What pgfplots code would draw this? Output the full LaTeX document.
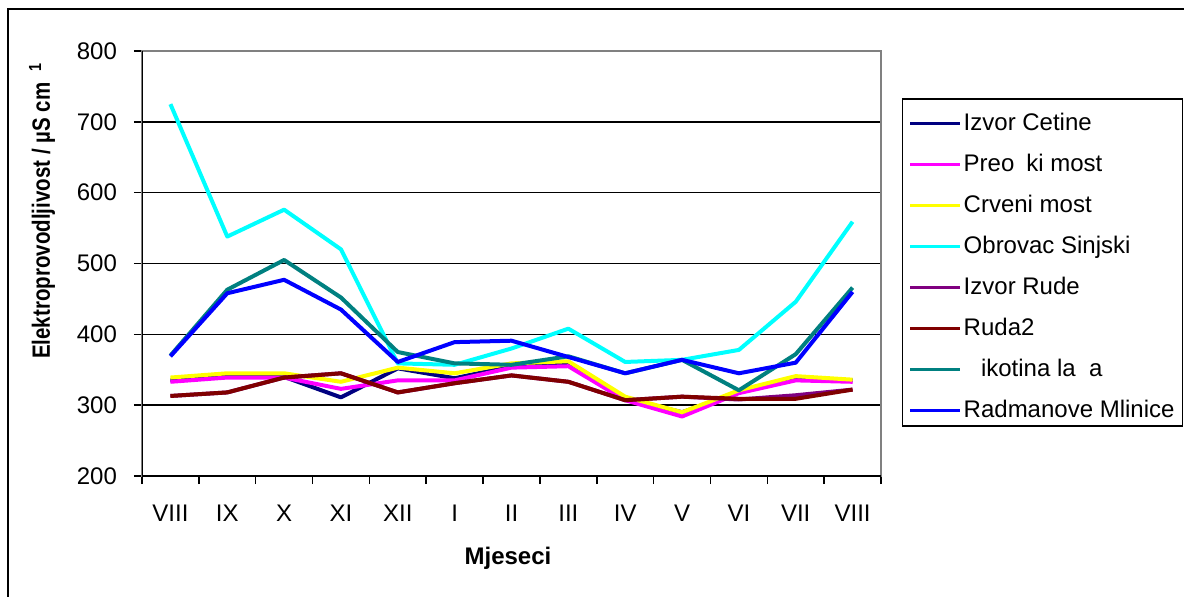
\documentclass[border=0pt]{standalone}
\usepackage{pgfplots}
\pgfplotsset{compat=1.18}
\usepackage{fontspec}
\setmainfont{Liberation Sans}
\definecolor{cNavy}{RGB}{0,0,128}
\definecolor{cMag}{RGB}{255,0,255}
\definecolor{cYel}{RGB}{255,255,0}
\definecolor{cCyan}{RGB}{0,255,255}
\definecolor{cPur}{RGB}{128,0,128}
\definecolor{cMar}{RGB}{128,0,0}
\definecolor{cTeal}{RGB}{0,128,128}
\definecolor{cBlue}{RGB}{0,0,255}
\definecolor{cGray}{RGB}{128,128,128}
\begin{document}
\begin{tikzpicture}
\useasboundingbox (0,0) rectangle (592pt,298pt);
\draw[black, line width=0.75pt] (4pt,-5pt) rectangle (600pt,293.5pt);
\begin{axis}[
  at={(71pt,60pt)}, anchor=south west,
  scale only axis, width=369.5pt, height=212.5pt,
  xmin=-0.5, xmax=12.5, ymin=200, ymax=800,
  ytick={200,300,...,800},
  xtick={-0.5,0.5,...,12.5},
  xticklabels={},
  extra x ticks={0,1,...,12},
  extra x tick labels={VIII,IX,X,XI,XII,I,II,III,IV,V,VI,VII,VIII},
  extra x tick style={major tick length=0pt, grid=none},
  xtick pos=bottom, ytick pos=left,
  tick align=outside,
  major tick length=4pt,
  tick style={black, line width=0.75pt},
  ymajorgrids,
  grid style={black, line width=0.75pt},
  axis line style={cGray, line width=0.75pt},
  /pgf/number format/assume math mode=true,
  tick label style={font=\fontsize{12}{14}\selectfont},
  yticklabel style={xshift=-5pt},
  xticklabel style={yshift=-11pt},
  legend style={at={(1.0284,0.8894)}, anchor=north west, draw=black, line width=0.75pt,
    font=\fontsize{12}{14}\selectfont, row sep=6.5pt, inner sep=3pt,
    nodes={text height=12pt, text depth=0pt, inner sep=1pt}},
  legend cell align=left,
  legend image code/.code={\draw[#1, line width=1.5pt] (0pt,-2.5pt) -- (25pt,-2.5pt);},
  every axis plot/.append style={line width=2pt, line join=round},
]
\addplot[cNavy] coordinates {(0,335) (1,340) (2,340) (3,311) (4,352) (5,338) (6,355) (7,358) (8,310) (9,290) (10,318) (11,338) (12,335)};
\addlegendentry{Izvor Cetine}
\addplot[cMag] coordinates {(0,333) (1,339) (2,339) (3,323) (4,335) (5,335) (6,353) (7,355) (8,307) (9,284) (10,317) (11,335) (12,333)};
\addlegendentry{Preo\phantom{č}ki most}
\addplot[cYel] coordinates {(0,339) (1,345) (2,345) (3,333) (4,353) (5,345) (6,359) (7,362) (8,312) (9,290) (10,321) (11,341) (12,336)};
\addlegendentry{Crveni most}
\addplot[cCyan] coordinates {(0,725) (1,538) (2,576) (3,520) (4,359) (5,357) (6,380) (7,408) (8,361) (9,364) (10,378) (11,446) (12,559)};
\addlegendentry{Obrovac Sinjski}
\addplot[cPur] coordinates {(0,313) (1,318) (2,339) (3,345) (4,318) (5,331) (6,342) (7,333) (8,307) (9,312) (10,308) (11,314) (12,322)};
\addlegendentry{Izvor Rude}
\addplot[cMar] coordinates {(0,313) (1,318) (2,339) (3,345) (4,318) (5,331) (6,342) (7,333) (8,307) (9,312) (10,309) (11,309) (12,322)};
\addlegendentry{Ruda2}
\addplot[cTeal] coordinates {(0,370) (1,463) (2,505) (3,452) (4,375) (5,359) (6,357) (7,369) (8,345) (9,364) (10,321) (11,372) (12,466)};
\addlegendentry{\phantom{Č}ikotina la\phantom{đ}a}
\addplot[cBlue] coordinates {(0,369) (1,458) (2,477) (3,435) (4,361) (5,389) (6,391) (7,368) (8,345) (9,364) (10,345) (11,360) (12,460)};
\addlegendentry{Radmanove Mlinice}
\draw[black, line width=0.75pt] (rel axis cs:0,1) -- (rel axis cs:0,0) -- (rel axis cs:1,0);
\end{axis}
\node[rotate=90, font=\fontsize{12.5}{14}\selectfont\bfseries] at (21pt,192.5pt) {\scalebox{0.82}[1]{Elektroprovodljivost / µS cm\textsuperscript{\phantom{−\,}1}}};
\node[font=\fontsize{12}{14}\selectfont\bfseries] at (254pt,19pt) {Mjeseci};
\end{tikzpicture}
\end{document}
